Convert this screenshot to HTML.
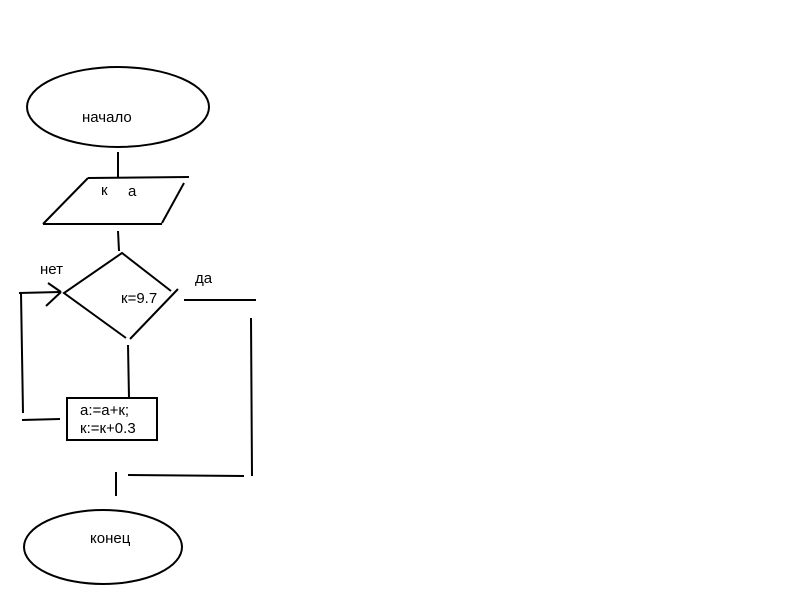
<!DOCTYPE html>
<html><head><meta charset="utf-8"><style>html,body{margin:0;padding:0;background:#fff}svg{display:block}</style></head>
<body>
<svg width="800" height="600" xmlns="http://www.w3.org/2000/svg" font-family="Liberation Sans, sans-serif" font-size="15" fill="none" stroke="#000" stroke-width="2">
<ellipse cx="118" cy="107" rx="91" ry="40"/>
<line x1="118" y1="152" x2="118" y2="178"/>
<line x1="88" y1="178" x2="189" y2="177"/>
<line x1="184" y1="183" x2="162" y2="223"/>
<line x1="43" y1="224" x2="162" y2="224"/>
<line x1="43" y1="224" x2="88" y2="178"/>
<line x1="118" y1="231" x2="119" y2="251"/>
<polyline points="171,291 122,253 64,293 126,338"/>
<line x1="178" y1="289" x2="130" y2="339"/>
<line x1="19" y1="293" x2="60" y2="292"/>
<line x1="46" y1="306" x2="61" y2="292"/>
<line x1="48" y1="283" x2="61" y2="292"/>
<line x1="21" y1="293" x2="23" y2="413"/>
<line x1="22" y1="420" x2="60" y2="419"/>
<line x1="128" y1="345" x2="129" y2="398"/>
<rect x="67" y="398" width="90" height="42"/>
<line x1="184" y1="300" x2="256" y2="300"/>
<line x1="251" y1="318" x2="252" y2="476"/>
<line x1="128" y1="475" x2="244" y2="476"/>
<line x1="116" y1="472" x2="116" y2="496"/>
<ellipse cx="103" cy="547" rx="79" ry="37"/>
<g fill="#000" stroke="none">
<text x="82" y="122">начало</text>
<text x="101" y="195">к</text>
<text x="128" y="196">а</text>
<text x="121" y="303">к=9.7</text>
<text x="40" y="274">нет</text>
<text x="195" y="283">да</text>
<text x="80" y="415">а:=а+к;</text>
<text x="80" y="433">к:=к+0.3</text>
<text x="90" y="543">конец</text>
</g>
</svg>
</body></html>
